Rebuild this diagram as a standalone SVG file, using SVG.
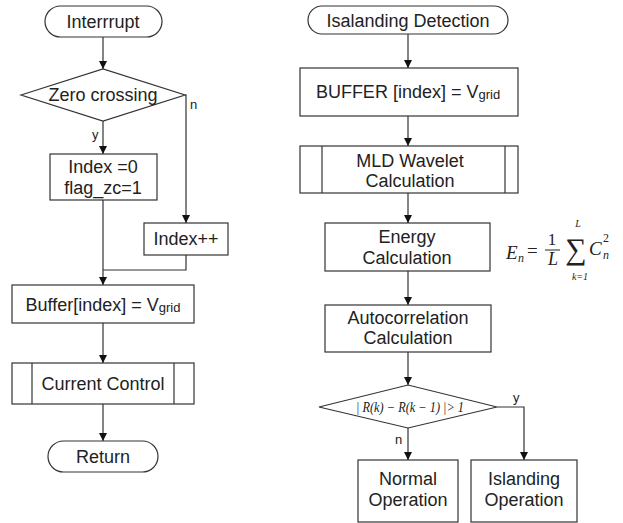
<svg xmlns="http://www.w3.org/2000/svg" width="623" height="523" viewBox="0 0 623 523">
<style>
.s{fill:#fff;stroke:#333;stroke-width:1.2}
.t{font-family:"Liberation Sans",Arial,sans-serif;font-size:18px;fill:#222;text-anchor:middle}
.sub{font-size:13px}
.l{font-family:"Liberation Sans",Arial,sans-serif;font-size:13px;fill:#222}
.c{fill:none;stroke:#333;stroke-width:1.2}
.m{font-family:"Liberation Serif","Times New Roman",serif;fill:#222;font-style:italic}
.r{font-family:"Liberation Serif","Times New Roman",serif;fill:#222}
</style>
<defs>
<marker id="ah" viewBox="0 0 8 10" refX="8" refY="5" markerWidth="8" markerHeight="10" markerUnits="userSpaceOnUse" orient="auto">
<path d="M0,1 L8,5 L0,9 z" fill="#111"/>
</marker>
</defs>
<rect width="623" height="523" fill="#fff"/>
<g id="connectors">
<line class="c" x1="103" y1="37" x2="103" y2="69" marker-end="url(#ah)"/>
<line class="c" x1="103" y1="121" x2="103" y2="154" marker-end="url(#ah)"/>
<polyline class="c" points="185,95 186,95 186,223" marker-end="url(#ah)"/>
<line class="c" x1="103" y1="200" x2="103" y2="285" marker-end="url(#ah)"/>
<polyline class="c" points="186,255 186,270 103,270"/>
<line class="c" x1="103" y1="323" x2="103" y2="363" marker-end="url(#ah)"/>
<line class="c" x1="103" y1="404" x2="103" y2="441" marker-end="url(#ah)"/>
<line class="c" x1="408" y1="34" x2="408" y2="68" marker-end="url(#ah)"/>
<line class="c" x1="408" y1="116" x2="408" y2="146" marker-end="url(#ah)"/>
<line class="c" x1="408" y1="193" x2="408" y2="223" marker-end="url(#ah)"/>
<line class="c" x1="408" y1="271" x2="408" y2="305" marker-end="url(#ah)"/>
<line class="c" x1="408" y1="352" x2="408" y2="385" marker-end="url(#ah)"/>
<line class="c" x1="408" y1="428" x2="408" y2="460" marker-end="url(#ah)"/>
<polyline class="c" points="497,407 524,407 524,460" marker-end="url(#ah)"/>
<text class="l" x="190" y="109">n</text>
<text class="l" x="92" y="139">y</text>
<text class="l" x="513" y="402">y</text>
<text class="l" x="395" y="444">n</text>
</g>
<g id="interrupt">
<rect class="s" x="45" y="6" width="117" height="31" rx="15.5"/>
<text class="t" x="103" y="28">Interrrupt</text>
</g>
<g id="zero-crossing">
<polygon class="s" points="21,95 103,69 185,95 103,121"/>
<text class="t" x="103" y="101">Zero crossing</text>
</g>
<g id="index-reset">
<rect class="s" x="50" y="154" width="107" height="46"/>
<text class="t" x="103" y="173">Index =0</text>
<text class="t" x="103" y="194">flag_zc=1</text>
</g>
<g id="index-inc">
<rect class="s" x="144" y="223" width="84" height="32"/>
<text class="t" x="186" y="245">Index++</text>
</g>
<g id="buffer-left">
<rect class="s" x="12" y="285" width="182" height="38"/>
<text class="t" x="103" y="311">Buffer[index] = V<tspan class="sub" dy="1">grid</tspan></text>
</g>
<g id="current-control">
<rect class="s" x="12" y="363" width="182" height="41"/>
<line class="c" x1="32" y1="363" x2="32" y2="404"/>
<line class="c" x1="174" y1="363" x2="174" y2="404"/>
<text class="t" x="103" y="390">Current Control</text>
</g>
<g id="return">
<rect class="s" x="48" y="441" width="110" height="31" rx="15.5"/>
<text class="t" x="103" y="463">Return</text>
</g>
<g id="islanding-detection">
<rect class="s" x="308" y="6" width="200" height="28" rx="14"/>
<text class="t" x="408" y="27">Isalanding Detection</text>
</g>
<g id="buffer-right">
<rect class="s" x="300" y="68" width="218" height="48"/>
<text class="t" x="408" y="98">BUFFER [index] = V<tspan class="sub" dy="1">grid</tspan></text>
</g>
<g id="mld-wavelet">
<rect class="s" x="300" y="146" width="218" height="47"/>
<line class="c" x1="322" y1="146" x2="322" y2="193"/>
<line class="c" x1="505" y1="146" x2="505" y2="193"/>
<text class="t" x="410" y="167">MLD Wavelet</text>
<text class="t" x="410" y="187">Calculation</text>
</g>
<g id="energy">
<rect class="s" x="325" y="223" width="165" height="48"/>
<text class="t" x="407" y="243">Energy</text>
<text class="t" x="407" y="264">Calculation</text>
</g>
<g id="formula">
<text class="m" x="506" y="259" font-size="19">E</text>
<text class="m" x="518" y="262" font-size="12">n</text>
<text class="r" x="527" y="257" font-size="19">=</text>
<text class="r" x="552" y="245" font-size="17" text-anchor="middle">1</text>
<line x1="545" y1="250" x2="560" y2="250" stroke="#222" stroke-width="1"/>
<text class="m" x="553" y="265" font-size="18" text-anchor="middle">L</text>
<text class="r" x="576" y="259" font-size="30" text-anchor="middle">∑</text>
<text class="m" x="578" y="227" font-size="10" text-anchor="middle">L</text>
<text class="m" x="580" y="280" font-size="10" text-anchor="middle">k=1</text>
<text class="m" x="589" y="255" font-size="19">C</text>
<text class="r" x="603" y="242" font-size="12">2</text>
<text class="m" x="603" y="259" font-size="12">n</text>
</g>
<g id="autocorrelation">
<rect class="s" x="325" y="305" width="166" height="47"/>
<text class="t" x="408" y="324">Autocorrelation</text>
<text class="t" x="408" y="344">Calculation</text>
</g>
<g id="threshold">
<polygon class="s" points="319,407 408,385 497,407 408,428"/>
<text class="m" x="410" y="412" font-size="14" text-anchor="middle" textLength="108" lengthAdjust="spacingAndGlyphs">| R(k) − R(k − 1) |&gt; 1</text>
</g>
<g id="normal-operation">
<rect class="s" x="358" y="460" width="100" height="62"/>
<text class="t" x="408" y="485">Normal</text>
<text class="t" x="408" y="506">Operation</text>
</g>
<g id="islanding-operation">
<rect class="s" x="471" y="460" width="106" height="62"/>
<text class="t" x="524" y="485">Islanding</text>
<text class="t" x="524" y="506">Operation</text>
</g>
</svg>
